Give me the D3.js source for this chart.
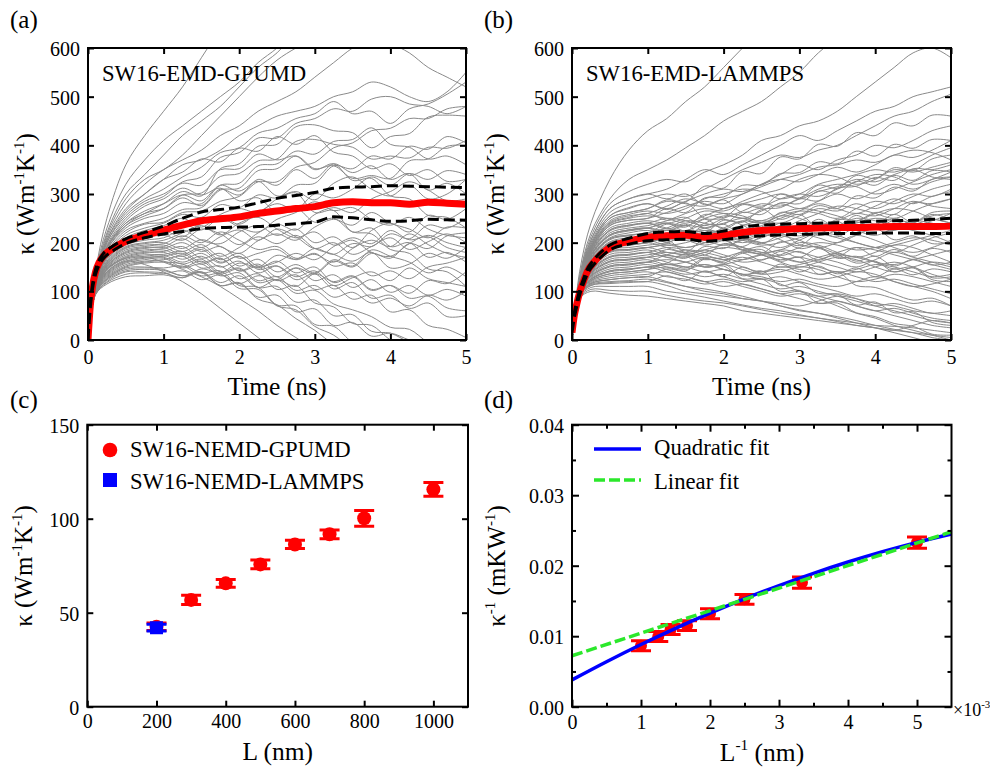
<!DOCTYPE html>
<html><head><meta charset="utf-8">
<script src="https://cdn.jsdelivr.net/npm/d3@7"></script>
</head><body style="margin:0">
<script>
// ---------------- DATA ----------------
const timeGrid = [0,0.1,0.25,0.5,0.75,1,1.25,1.5,1.75,2,2.25,2.5,2.75,3,3.25,3.5,3.75,4,4.25,4.5,4.75,5];
const meanTime = [0,0.03,0.06,0.1,0.15,0.2,0.3,0.4,0.5,0.75,1,1.25,1.5,1.75,2,2.25,2.5,2.75,3,3.25,3.5,3.75,4,4.25,4.5,4.75,5];

const gpumdCurves = [
[0,140,250,360,420,470,520,580,640,700,760,800,850,880,900,920,940,950,960,970,980,990],
[0,135,230,320,370,410,440,470,500,530,570,600,640,680,700,720,740,760,780,800,820,840],
[0,130,220,300,340,380,420,450,480,520,560,590,630,650,680,690,700,710,720,730,740,750],
[0,128,215,290,330,350,380,420,460,500,540,575,600,620,640,650,630,610,590,560,540,520],
[0,125,210,280,320,350,370,390,420,440,470,490,510,540,570,600,620,630,640,650,660,670],
[0,125,205,270,300,330,360,370,390,420,440,460,470,480,500,510,530,520,500,490,510,550],
[0,120,200,260,290,310,335,355,385,395,425,435,455,465,490,465,470,445,475,485,505,530],
[0,120,195,250,280,295,325,335,375,385,415,415,445,455,475,470,495,500,485,480,465,480],
[0,118,190,240,260,280,305,296,352,362,398,402,438,442,430,426,395,418,424,458,462,460],
[0,118,190,235,255,270,298,302,336,342,368,372,408,412,402,396,372,378,374,396,394,410],
[0,115,185,230,250,260,282,280,318,322,358,362,388,382,408,412,436,402,396,372,378,360],
[0,115,180,225,240,250,268,272,308,312,348,352,378,352,358,332,338,332,368,372,398,400],
[0,112,178,220,238,242,262,265,285,295,325,325,355,365,395,405,430,435,455,455,475,480],
[0,112,175,215,230,240,258,252,278,272,298,292,318,322,358,352,378,372,398,392,418,405],
[0,110,172,210,225,235,250,232,258,270,262,290,305,288,322,335,310,296,318,290,300,330],
[0,110,170,205,220,225,212,240,255,238,262,280,268,300,292,310,335,318,342,330,348,340],
[0,108,168,200,215,220,238,226,250,232,222,248,262,284,266,272,248,236,252,228,215,210],
[0,108,165,198,210,215,205,228,218,196,220,238,226,258,272,262,290,305,325,308,286,290],
[0,106,162,195,205,210,226,205,198,222,235,215,228,200,212,190,225,240,222,256,248,270],
[0,106,160,192,200,205,220,235,216,240,252,228,210,222,195,205,180,172,198,215,200,190],
[0,105,158,190,198,200,188,206,192,178,204,218,205,232,248,236,262,240,228,210,232,230],
[0,105,156,188,195,198,214,200,222,205,186,192,168,176,160,188,205,192,218,196,178,170],
[0,104,155,185,192,195,182,196,172,190,212,198,215,188,176,162,180,148,156,178,168,190],
[0,104,153,182,190,192,208,190,212,226,205,228,212,188,200,176,192,210,186,202,218,200],
[0,102,152,180,188,190,176,190,165,178,152,160,178,165,192,210,198,225,206,212,190,180],
[0,102,150,178,185,188,200,182,192,168,178,186,165,178,152,158,132,142,126,150,158,170],
[0,101,148,175,182,185,172,186,160,172,148,162,138,150,118,130,102,112,96,122,116,140],
[0,101,146,172,180,182,192,168,178,152,166,140,155,138,165,152,185,172,160,138,150,130],
[0,100,145,170,178,180,166,178,158,172,145,152,124,136,105,118,86,92,65,76,48,50],
[0,100,143,168,175,176,182,160,168,142,150,122,134,104,112,84,92,58,62,30,22,5],
[0,99,140,165,172,174,160,172,150,162,138,152,130,142,112,128,140,122,148,126,118,110],
[0,99,138,162,170,172,178,156,168,142,156,130,148,122,134,108,124,98,112,92,104,90],
[0,98,136,160,168,170,156,166,140,148,122,130,102,112,88,98,76,86,70,92,82,100],
[0,98,134,158,165,168,150,162,136,146,118,124,96,102,74,62,48,26,22,-5,-20,-30],
[0,97,132,155,162,165,172,148,152,126,136,104,112,76,68,34,30,0,-20,-40,-60,-80],
[0,97,130,152,160,162,148,156,132,138,108,110,78,82,50,52,18,14,-5,-20,-40,-60],
[0,96,128,150,158,160,156,138,142,112,108,72,70,32,28,-5,-20,-40,-60,-80,-100,-120],
[0,96,126,148,150,148,152,132,136,106,104,70,62,28,10,-20,-45,-70,-95,-120,-145,-170],
[0,95,125,145,148,145,132,140,112,116,84,72,44,20,-10,-35,-60,-85,-110,-135,-160,-185],
[0,95,123,142,145,143,132,138,112,118,88,92,58,64,30,36,8,14,0,-10,-20,-30],
[0,94,120,140,140,138,128,140,118,132,108,124,110,136,120,132,104,112,86,90,66,60],
[0,94,118,135,138,136,142,124,134,116,132,124,148,136,162,150,178,168,198,188,214,220],
[0,93,115,130,132,134,128,146,138,158,150,174,166,188,176,198,192,218,208,236,230,250],
[0,125,205,265,300,330,345,372,366,394,388,418,402,420,386,378,352,362,338,350,326,330],
[0,120,200,255,285,300,322,318,350,352,382,370,378,350,362,328,332,296,290,256,252,230],
[0,118,192,245,275,290,312,298,312,286,292,262,272,242,250,222,218,186,178,146,140,110],
[0,116,188,240,265,280,298,286,318,306,326,296,302,262,266,222,230,192,200,170,180,160],
[0,114,185,235,260,270,292,276,310,298,330,318,350,332,362,344,358,330,342,308,322,300],
[0,100,140,162,155,140,120,95,65,35,5,-25,-55,-85,-115,-145,-175,-205,-235,-265,-295,-325],
[0,102,145,168,170,160,145,130,110,85,60,30,5,-20,-45,-70,-95,-120,-145,-170,-195,-220]
];

const lammpsCurves = [
[0,140,240,330,390,430,455,490,520,560,600,640,670,700,720,750,770,790,810,830,850,870],
[0,130,220,290,330,350,370,395,420,450,470,490,520,550,590,620,640,660,680,700,720,740],
[0,128,212,280,305,320,330,325,345,360,380,410,420,440,450,470,500,530,560,590,600,580],
[0,125,205,270,290,300,310,330,350,340,360,380,400,420,410,430,450,470,480,500,510,520],
[0,124,200,262,280,290,300,295,310,330,350,365,380,375,390,400,420,440,460,470,490,505],
[0,122,196,255,272,280,270,285,300,310,305,320,340,360,350,370,380,400,395,410,430,440],
[0,120,192,250,262,270,285,280,275,290,300,320,330,325,340,355,345,360,380,375,390,410],
[0,118,190,245,258,265,260,270,290,300,310,305,290,300,320,330,340,350,345,360,380,395],
[0,118,188,242,255,260,275,290,280,270,285,300,310,330,340,335,320,330,350,345,355,365],
[0,117,186,238,250,255,250,240,255,270,280,275,290,300,295,310,325,340,335,320,330,345],
[0,116,184,235,246,250,262,275,285,280,300,315,330,340,355,360,370,365,380,390,385,370],
[0,115,182,230,240,245,240,250,265,260,250,265,280,270,285,300,290,305,320,310,325,335],
[0,114,180,226,236,240,250,245,235,250,265,280,275,290,310,320,315,300,310,325,340,350],
[0,114,178,224,234,240,230,225,240,255,250,240,255,265,260,250,270,285,280,295,310,320],
[0,113,176,220,230,235,245,260,270,265,280,290,300,290,305,315,330,325,340,350,335,330],
[0,112,174,216,226,230,225,235,230,220,235,245,240,255,270,265,280,270,285,300,295,310],
[0,112,172,214,224,230,240,235,250,260,255,240,230,245,260,275,270,260,250,265,280,290],
[0,111,170,210,220,225,215,205,215,230,245,240,255,250,235,245,260,255,270,285,275,270],
[0,110,168,208,216,220,230,245,240,230,220,235,250,265,280,270,260,275,290,280,295,305],
[0,110,166,206,214,220,215,225,220,210,200,210,225,220,210,200,215,230,225,240,255,260],
[0,109,164,202,210,215,225,220,230,240,250,245,260,270,265,255,245,260,270,265,250,240],
[0,108,162,200,206,210,200,190,200,215,210,200,190,205,220,215,200,190,180,195,210,220],
[0,108,160,198,204,210,220,215,205,195,205,220,235,230,220,235,250,245,235,225,215,200],
[0,107,158,195,200,205,195,200,210,205,190,180,185,200,195,180,170,180,195,190,175,160],
[0,106,156,192,196,200,210,205,195,205,215,225,215,205,190,200,215,205,190,180,190,205],
[0,106,154,190,194,200,190,180,185,175,165,175,185,180,170,160,150,165,180,170,160,150],
[0,105,152,186,190,195,200,215,225,220,210,200,210,225,240,235,225,215,230,245,240,230],
[0,104,150,182,186,190,180,175,165,170,180,175,160,150,160,170,165,150,140,150,160,155],
[0,104,148,180,184,190,195,190,200,210,205,215,230,225,215,225,240,250,245,235,245,260],
[0,103,146,176,180,185,175,170,180,190,185,175,165,170,160,150,140,150,160,150,135,125],
[0,102,144,172,176,180,190,185,175,165,170,160,150,155,165,175,170,160,155,165,175,185],
[0,102,142,170,174,180,170,160,150,155,145,135,140,150,145,130,120,125,135,130,120,110],
[0,101,140,166,170,175,180,175,185,195,190,180,170,160,170,180,190,185,175,165,155,145],
[0,100,138,162,166,170,160,150,155,145,135,125,130,120,110,100,90,95,85,75,80,70],
[0,100,136,160,164,170,175,185,180,170,160,165,175,190,200,195,185,190,200,210,205,195],
[0,99,134,156,160,165,155,160,170,165,150,140,145,135,125,130,140,135,120,110,115,125],
[0,98,132,152,156,160,150,140,130,135,125,115,105,110,100,90,80,70,75,65,55,60],
[0,98,130,150,154,160,165,160,150,155,165,175,170,160,150,140,145,155,150,140,130,135],
[0,97,128,146,150,155,145,135,140,130,120,125,115,100,90,95,85,70,60,50,40,35],
[0,96,126,142,146,150,155,150,140,145,135,140,150,145,135,140,130,120,125,115,105,95],
[0,96,124,140,144,150,140,130,120,110,115,105,95,100,90,80,70,60,50,40,30,25],
[0,95,122,136,140,145,150,145,155,145,135,130,120,125,115,110,120,130,120,110,100,85],
[0,94,120,132,136,140,130,125,115,120,110,100,90,95,85,70,55,45,30,20,10,0],
[0,93,118,128,132,135,140,130,120,125,115,105,95,85,75,80,70,60,65,55,45,40],
[0,92,116,124,128,130,120,110,100,95,85,80,70,60,55,45,35,25,15,5,-5,-15],
[0,91,114,120,122,125,118,110,105,98,90,80,70,62,55,48,40,30,22,15,5,0],
[0,90,112,116,118,120,112,100,95,90,85,80,75,70,80,90,85,75,70,60,55,50],
[0,88,108,110,110,110,100,95,88,80,72,65,60,52,45,40,35,30,28,25,20,15],
[0,86,104,102,100,100,92,85,80,76,70,62,55,50,45,38,30,25,20,30,40,35],
[0,85,100,96,92,90,85,80,75,70,60,55,50,45,40,35,30,25,20,15,10,5],
[0,118,188,240,252,260,246,252,230,238,214,218,206,188,192,168,172,160,146,150,128,130],
[0,122,196,255,270,280,268,282,250,248,236,214,220,196,190,176,158,162,140,148,124,120],
[0,114,180,226,236,240,228,238,205,210,184,186,162,170,135,140,112,108,94,82,86,70],
[0,106,156,190,195,200,206,178,168,158,132,142,112,118,96,94,72,78,56,58,36,30],
[0,110,168,208,215,220,238,232,258,252,278,272,300,292,318,312,338,332,354,348,372,380],
[0,104,150,182,186,190,198,218,220,246,242,268,272,290,286,312,316,334,328,352,350,360],
[0,100,138,162,166,170,186,180,208,206,236,232,262,258,276,270,296,292,314,306,330,335],
[0,96,125,142,146,150,158,178,174,198,192,212,218,230,226,248,244,262,258,282,280,290],
[0,92,116,124,128,130,146,142,166,162,182,178,202,194,218,212,232,228,246,242,262,265],
[0,108,162,200,206,210,205,215,225,215,205,195,200,210,220,210,200,190,195,205,215,225],
[0,102,142,170,176,180,170,172,150,152,126,126,100,102,76,76,56,48,34,28,12,10],
[0,112,174,216,226,230,216,222,200,206,186,192,174,182,164,178,162,172,152,166,154,160],
[0,116,184,235,246,250,270,262,292,294,318,318,342,344,366,362,388,378,402,394,412,410],
[0,106,156,192,196,200,214,212,236,238,262,258,282,280,306,302,326,318,338,328,348,345],
[0,98,132,152,156,160,174,168,192,188,206,198,216,214,232,222,242,232,250,238,248,240],
[0,95,122,136,140,145,156,148,168,158,178,164,182,170,188,172,190,172,186,172,188,180],
[0,90,112,118,120,120,132,122,142,130,150,136,156,140,152,136,148,130,146,134,146,140],
[0,120,192,250,262,270,288,284,316,312,346,342,376,372,402,398,426,420,446,440,462,460],
[0,112,174,216,226,230,240,224,248,228,244,222,240,226,248,232,256,238,258,242,258,248],
[0,125,205,270,290,300,290,300,278,288,262,270,248,258,232,244,220,230,206,214,198,200]
];

const gpumdMean  = [0,70,110,140,160,172,185,195,203,215,226,236,245,249,253,260,265,270,274,282,284,282,282,279,283,281,279];
const gpumdUpper = [0,75,115,145,165,177,190,200,208,221,234,250,263,268,273,282,291,297,303,312,314,315,317,316,315,314,313];
const gpumdLower = [0,65,105,135,155,167,180,190,198,210,218,223,229,231,232,233,236,239,242,253,251,247,244,245,248,247,246];
const lammpsMean  = [15,50,72,97,120,140,162,178,190,203,211,214,215,211,215,221,225,227,229,230,231,231,232,233,233,233,234];
const lammpsUpper = [15,55,77,102,125,145,167,183,195,209,219,222,223,219,224,232,236,238,239,240,241,242,244,245,246,248,250];
const lammpsLower = [15,45,67,92,115,135,157,173,185,197,204,206,207,203,206,211,214,216,217,218,219,219,220,220,220,219,219];

const lengths = [200,300,400,500,600,700,800,1000];
const kappaGPUMD = [42.5,56.8,65.6,75.7,86.3,91.7,100.2,115.6];
const kappaGPUMDErr = [2.0,2.5,2.1,2.3,2.2,2.3,4.2,3.6];
const lengthsLAMMPS = [200];
const kappaLAMMPS = [42.0];
const kappaLAMMPSErr = [1.8];

const invL = [1,1.25,1.4286,1.6667,2,2.5,3.3333,5];
const invKappa = [0.00865,0.00995,0.01095,0.01150,0.01318,0.01523,0.01760,0.02328];
const invKappaErr = [0.0007,0.0007,0.0007,0.0007,0.0007,0.0007,0.0008,0.0008];
const quadX = [0,0.5,1,1.5,2,2.5,3,3.5,4,4.5,5,5.5];
const quadY = [0.00380,0.00638,0.00882,0.01112,0.01328,0.01530,0.01718,0.01892,0.02052,0.02199,0.02331,0.02449];
const linX = [0,5.5];
const linY = [0.00723,0.02482];

const ticksTime = [0,1,2,3,4,5];
const ticksKappa = [0,100,200,300,400,500,600];
const ticksL = [0,200,400,600,800,1000];
const ticksKappaC = [0,50,100,150];
const ticksInvL = [0,1,2,3,4,5];
const ticksInvLMinor = [0.5,1.5,2.5,3.5,4.5];
const ticksInvK = [0,0.01,0.02,0.03,0.04];
const ticksInvKMinor = [0.005,0.015,0.025,0.035];

// ---------------- DRAW ----------------
const FONT = '"Liberation Serif"';
const svg = d3.select("body").append("svg").attr("width",990).attr("height",768)
  .attr("font-family","Liberation Serif").style("font-family",FONT);
const defs = svg.append("defs");
svg.append("rect").attr("width",990).attr("height",768).attr("fill","#fff");

function txt(x, y, s, size){
  return svg.append("text").attr("x",x).attr("y",y).attr("font-size",size).style("font-family",FONT).attr("fill","#000").text(s);
}
function styleAxis(sel){
  sel.attr("font-family",null).attr("font-size",null);
  sel.select(".domain").remove();
  sel.selectAll(".tick line").attr("stroke","#000").attr("stroke-width",2);
  sel.selectAll(".tick text").attr("fill","#000").attr("font-size",20).style("font-family",FONT);
}
function axes(x, y, o){
  const [xa,xb] = x.range(), [yb,ya] = y.range();
  const g = svg.append("g");
  const ts = o.ts || 6;
  g.append("g").attr("transform",`translate(0,${yb})`)
    .call(d3.axisBottom(x).tickValues(o.xt).tickSize(-ts).tickPadding(o.xpad).tickFormat(o.xf)).call(styleAxis);
  g.append("g").attr("transform",`translate(0,${ya})`)
    .call(d3.axisTop(x).tickValues(o.xt).tickSize(-ts).tickFormat("")).call(styleAxis);
  g.append("g").attr("transform",`translate(${xa},0)`)
    .call(d3.axisLeft(y).tickValues(o.yt).tickSize(-ts).tickPadding(8).tickFormat(o.yf)).call(styleAxis)
    .selectAll(".tick text").attr("dy","0.38em");
  g.append("g").attr("transform",`translate(${xb},0)`)
    .call(d3.axisRight(y).tickValues(o.yt).tickSize(-ts).tickFormat("")).call(styleAxis);
  if (o.xm){
    g.append("g").attr("transform",`translate(0,${yb})`).call(d3.axisBottom(x).tickValues(o.xm).tickSize(-4).tickFormat("")).call(styleAxis);
    g.append("g").attr("transform",`translate(0,${ya})`).call(d3.axisTop(x).tickValues(o.xm).tickSize(-4).tickFormat("")).call(styleAxis);
  }
  if (o.ym){
    g.append("g").attr("transform",`translate(${xa},0)`).call(d3.axisLeft(y).tickValues(o.ym).tickSize(-4).tickFormat("")).call(styleAxis);
    g.append("g").attr("transform",`translate(${xb},0)`).call(d3.axisRight(y).tickValues(o.ym).tickSize(-4).tickFormat("")).call(styleAxis);
  }
  g.selectAll("text").filter(function(){ return this.textContent === ""; }).remove();
  g.append("rect").attr("x",xa).attr("y",ya).attr("width",xb-xa).attr("height",yb-ya)
    .attr("fill","none").attr("stroke","#000").attr("stroke-width",2);
}
function rich(x, y, parts, size, opts={}){
  const t = svg.append("text").attr("font-size",size).style("font-family",FONT).attr("fill","#000");
  if (opts.rotate) t.attr("transform",`translate(${x},${y}) rotate(-90)`).attr("text-anchor","middle");
  else t.attr("x",x).attr("y",y).attr("text-anchor",opts.anchor||"start");
  let up=false;
  parts.forEach(p=>{
    const s = typeof p === "string" ? p : p[0];
    const sup = typeof p !== "string";
    const ts = t.append("tspan").style("font-family",FONT).text(s);
    if (sup){ ts.attr("font-size",size*0.6).attr("dy",-size*0.42); up=true; }
    else if (up){ ts.attr("dy",size*0.42); up=false; }
  });
  return t;
}

function timePanel(id, x0, curves, mean, upper, lower, label, tag){
  const x = d3.scaleLinear().domain([0,5]).range([x0.l, x0.r]);
  const y = d3.scaleLinear().domain([0,600]).range([340,48]);
  defs.append("clipPath").attr("id",id).append("rect")
    .attr("x",x0.l).attr("y",48).attr("width",x0.r-x0.l).attr("height",292);
  const g = svg.append("g").attr("clip-path",`url(#${id})`);
  const lineG = d3.line().x((d,i)=>x(timeGrid[i])).y(d=>y(d)).curve(d3.curveCatmullRom.alpha(0.5));
  g.append("path").attr("d",curves.map(c=>lineG(c)).join(""))
    .attr("fill","none").attr("stroke","#8a8a8a").attr("stroke-width",1);
  const lineM = d3.line().x((d,i)=>x(meanTime[i])).y(d=>y(d)).curve(d3.curveMonotoneX);
  g.append("path").attr("d",lineM(mean)).attr("fill","none").attr("stroke","#ff0000").attr("stroke-width",7);
  g.append("path").attr("d",lineM(upper)+lineM(lower)).attr("fill","none")
    .attr("stroke","#000").attr("stroke-width",3).attr("stroke-dasharray","11,5");
  axes(x,y,{xt:ticksTime, yt:ticksKappa, xpad:10, xf:d3.format("d"), yf:d3.format("d")});
  txt(x0.l+14, 81, label, 22.7);
  rich((x0.l+x0.r)/2, 395, ["Time (ns)"], 25.5, {anchor:"middle"});
  rich(x0.yt, 194, ["κ (Wm",["-1"],"K",["-1"],")"], 25, {rotate:true});
  txt(x0.tx, 28, tag, 25);
}

timePanel("clipA",{l:88,r:466,yt:34,tx:10}, gpumdCurves, gpumdMean, gpumdUpper, gpumdLower, "SW16-EMD-GPUMD", "(a)");
timePanel("clipB",{l:572,r:951,yt:504,tx:484}, lammpsCurves, lammpsMean, lammpsUpper, lammpsLower, "SW16-EMD-LAMMPS", "(b)");

// ---- panel (c)
(function(){
  const x = d3.scaleLinear().domain([0,1100]).range([87.3,468]);
  const y = d3.scaleLinear().domain([0,150]).range([706.7,424.7]);
  function errPoints(xs, ys, es, color, marker){
    const g = svg.append("g");
    xs.forEach((xv,i)=>{
      const cx = x(xv), t = y(ys[i]+es[i]), b = y(ys[i]-es[i]);
      g.append("path").attr("d",`M${cx},${t}V${b}M${cx-10},${t}H${cx+10}M${cx-10},${b}H${cx+10}`)
        .attr("stroke",color).attr("stroke-width",3).attr("fill","none");
      if (marker==="circle") g.append("circle").attr("cx",cx).attr("cy",y(ys[i])).attr("r",7).attr("fill",color);
      else g.append("rect").attr("x",cx-6.5).attr("y",y(ys[i])-6.5).attr("width",13).attr("height",13).attr("fill",color);
    });
  }
  errPoints(lengths, kappaGPUMD, kappaGPUMDErr, "#ff0000", "circle");
  errPoints(lengthsLAMMPS, kappaLAMMPS, kappaLAMMPSErr, "#0000ff", "square");
  axes(x,y,{xt:ticksL, yt:ticksKappaC, xpad:7, xf:d3.format("d"), yf:d3.format("d")});
  svg.append("circle").attr("cx",110).attr("cy",450).attr("r",7.3).attr("fill","#ff0000");
  svg.append("rect").attr("x",103).attr("y",473).attr("width",14).attr("height",14).attr("fill","#0000ff");
  txt(130, 457, "SW16-NEMD-GPUMD", 22.7);
  txt(130, 488.5, "SW16-NEMD-LAMMPS", 22.7);
  rich(277.7, 760, ["L (nm)"], 25.5, {anchor:"middle"});
  rich(32, 566, ["κ (Wm",["-1"],"K",["-1"],")"], 25, {rotate:true});
  txt(10, 408, "(c)", 25);
})();

// ---- panel (d)
(function(){
  const x = d3.scaleLinear().domain([0,5.5]).range([572,951.5]);
  const y = d3.scaleLinear().domain([0,0.04]).range([706.7,424.7]);
  const g = svg.append("g");
  invL.forEach((xv,i)=>{
    const cx = x(xv), t = y(invKappa[i]+invKappaErr[i]), b = y(invKappa[i]-invKappaErr[i]);
    g.append("path").attr("d",`M${cx},${t}V${b}M${cx-10},${t}H${cx+10}M${cx-10},${b}H${cx+10}`)
      .attr("stroke","#ff0000").attr("stroke-width",3).attr("fill","none");
    g.append("circle").attr("cx",cx).attr("cy",y(invKappa[i])).attr("r",6).attr("fill","#ff0000");
  });
  const line = d3.line().x(d=>x(d[0])).y(d=>y(d[1])).curve(d3.curveMonotoneX);
  svg.append("path").attr("d",line(quadX.map((v,i)=>[v,quadY[i]]))).attr("fill","none").attr("stroke","#0000ff").attr("stroke-width",3.5);
  svg.append("path").attr("d",line(linX.map((v,i)=>[v,linY[i]]))).attr("fill","none").attr("stroke","#2be82b").attr("stroke-width",3.5).attr("stroke-dasharray","11,4");
  axes(x,y,{xt:ticksInvL, yt:ticksInvK, xm:ticksInvLMinor, ym:ticksInvKMinor, ts:7, xpad:8, xf:d3.format("d"), yf:d3.format(".2f")});
  svg.append("line").attr("x1",594).attr("x2",641).attr("y1",449).attr("y2",449).attr("stroke","#0000ff").attr("stroke-width",3.5);
  svg.append("line").attr("x1",594).attr("x2",641).attr("y1",480).attr("y2",480).attr("stroke","#2be82b").attr("stroke-width",3.5).attr("stroke-dasharray","11,4");
  txt(654, 455, "Quadratic fit", 22.7);
  txt(654, 488.5, "Linear fit", 22.7);
  rich(953, 716, ["×10",["-3"]], 18);
  rich(762, 761, ["L",["-1"]," (nm)"], 25.5, {anchor:"middle"});
  rich(505, 566, ["κ",["-1"]," (mKW",["-1"],")"], 25, {rotate:true});
  txt(484, 408, "(d)", 25);
})();
</script>
</body></html>
